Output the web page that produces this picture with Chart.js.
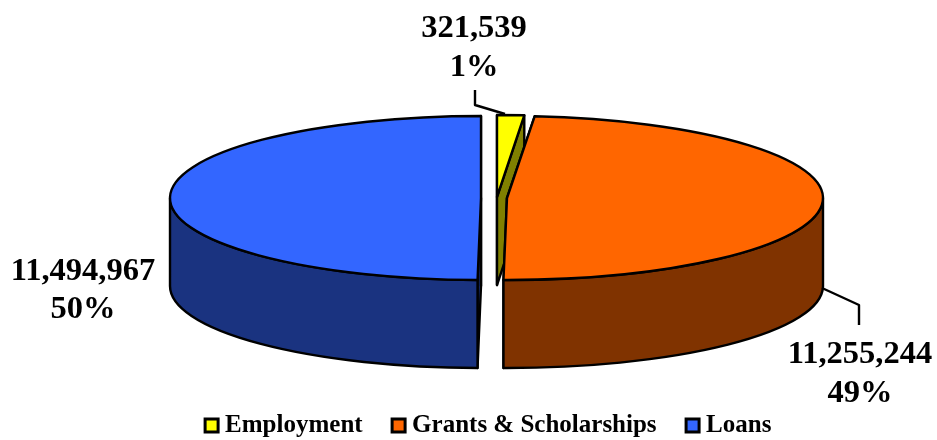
<!DOCTYPE html>
<html>
<head>
<meta charset="utf-8">
<title>Funding by type</title>
<script src="https://cdn.jsdelivr.net/npm/chart.js@4"></script>
<style>
  html, body { margin: 0; padding: 0; background: #fff; }
  #wrap { width: 937px; height: 440px; }
</style>
</head>
<body>
<div id="wrap"><canvas id="pie3d" width="937" height="440"></canvas></div>
<script>
// chart data
const categories = ['Employment', 'Grants & Scholarships', 'Loans'];
const amounts = [321539, 11255244, 11494967];
const percentLabels = ['1%', '49%', '50%'];

// colours: top of each slice and its darker side
const topColors = ['#FFFF00', '#FF6600', '#3366FF'];
const sideColors = ['#808000', '#803300', '#1A3380'];

const FONT = '"Liberation Serif", "Times New Roman", serif';
const DEPTH = 88;      // height of the pie wall
const RY = 82;         // vertical radius of the squashed top

// where every exploded slice sits on the page
const sliceSpots = [
  { cx: 497, cy: 197, rx: 312 },
  { cx: 507, cy: 198, rx: 316 },
  { cx: 481, cy: 198, rx: 311 }
];
// text blocks and leader lines
const labelSpots = [
  { x: 474, y1: 37, y2: 76 },
  { x: 860, y1: 363, y2: 402 },
  { x: 83, y1: 280, y2: 318 }
];
const leaders = [
  [[475, 90], [475, 105], [505, 114]],
  [[822, 288], [859, 305], [859, 325]]
];

function rimPoint(s, a, dy) {
  return [s.cx + s.rx * Math.cos(a), s.cy + RY * Math.sin(a) + dy];
}

function paintPath(ctx, fill) {
  ctx.fillStyle = fill;
  ctx.fill();
  ctx.stroke();
}

// flat cut face from the centre to the rim, pushed down by DEPTH
function drawFace(ctx, s, a, color) {
  const p = rimPoint(s, a, 0);
  ctx.beginPath();
  ctx.moveTo(s.cx, s.cy);
  ctx.lineTo(p[0], p[1]);
  ctx.lineTo(p[0], p[1] + DEPTH);
  ctx.lineTo(s.cx, s.cy + DEPTH);
  ctx.closePath();
  paintPath(ctx, color);
}

// curved outer wall, only the part that faces the viewer
function drawWall(ctx, s, start, end, color) {
  const from = Math.max(start, 0);
  const to = Math.min(end, Math.PI);
  if (to <= from) return;
  ctx.beginPath();
  ctx.ellipse(s.cx, s.cy, s.rx, RY, 0, from, to);
  ctx.ellipse(s.cx, s.cy + DEPTH, s.rx, RY, 0, to, from, true);
  ctx.closePath();
  paintPath(ctx, color);
}

const pie3dPlugin = {
  id: 'pie3d',
  beforeDatasetsDraw(chart) {
    const ctx = chart.ctx;
    const arcs = chart.getDatasetMeta(0).data;
    ctx.save();
    ctx.lineWidth = 2.4;
    ctx.lineJoin = 'round';
    ctx.strokeStyle = '#000';

    // back to front: employment, loans, grants
    [0, 2, 1].forEach(i => {
      const arc = arcs[i];
      const s = sliceSpots[i];

      drawFace(ctx, s, arc.startAngle, sideColors[i]);
      drawFace(ctx, s, arc.endAngle, sideColors[i]);
      drawWall(ctx, s, arc.startAngle, arc.endAngle, sideColors[i]);

      // the top is the library's own arc, squashed into an ellipse
      ctx.save();
      ctx.translate(s.cx, s.cy);
      ctx.scale(s.rx / arc.outerRadius, RY / arc.outerRadius);
      ctx.translate(-arc.x, -arc.y);
      arc.draw(ctx);
      ctx.restore();

      // outline done apart so the line keeps an even width
      ctx.beginPath();
      ctx.moveTo(s.cx, s.cy);
      ctx.ellipse(s.cx, s.cy, s.rx, RY, 0, arc.startAngle, arc.endAngle);
      ctx.closePath();
      ctx.stroke();
    });

    // leader lines
    leaders.forEach(line => {
      ctx.beginPath();
      line.forEach((p, n) => n ? ctx.lineTo(p[0], p[1]) : ctx.moveTo(p[0], p[1]));
      ctx.stroke();
    });

    // value and percent labels
    ctx.fillStyle = '#000';
    ctx.font = 'bold 32.5px ' + FONT;
    ctx.textAlign = 'center';
    ctx.textBaseline = 'alphabetic';
    labelSpots.forEach((t, i) => {
      ctx.fillText(amounts[i].toLocaleString('en-US'), t.x, t.y1);
      ctx.fillText(percentLabels[i], t.x, t.y2);
    });
    ctx.restore();
    return false;
  }
};

new Chart(document.getElementById('pie3d').getContext('2d'), {
  type: 'pie',
  data: {
    labels: categories,
    datasets: [{
      data: amounts,
      backgroundColor: topColors,
      borderWidth: 0
    }]
  },
  plugins: [pie3dPlugin],
  options: {
    responsive: false,
    animation: false,
    layout: { padding: { left: 45, bottom: -8 } },
    plugins: {
      tooltip: { enabled: false },
      legend: {
        position: 'bottom',
        labels: {
          color: '#000',
          font: { family: FONT, size: 25, weight: 'bold' },
          usePointStyle: true,
          pointStyle: 'rect',
          boxWidth: 2,
          boxHeight: 13,
          padding: 35,
          generateLabels(chart) {
            const items = Chart.overrides.doughnut.plugins.legend.labels.generateLabels(chart);
            items.forEach(it => { it.strokeStyle = '#000'; it.lineWidth = 3; });
            return items;
          }
        }
      }
    }
  }
});
</script>
</body>
</html>
